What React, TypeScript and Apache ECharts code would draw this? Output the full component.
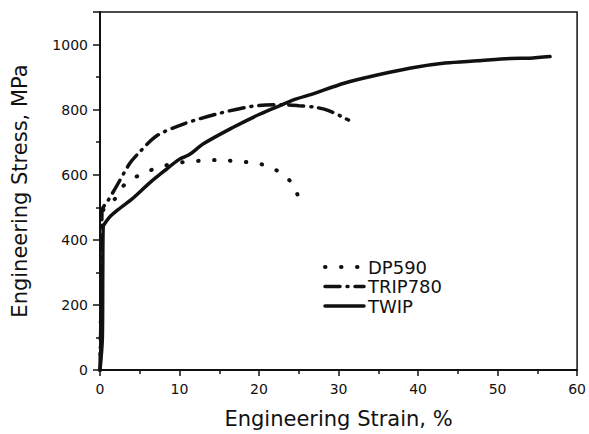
import React, { useEffect, useRef } from "react";
import * as echarts from "echarts";

const seriesNames = ["DP590", "TRIP780", "TWIP"];

const dp590: [number, number][] = [
  [0, 0], [0.2, 300], [0.4, 490], [1.7, 520], [3.1, 570], [5.2, 602], [7.1, 620],
  [9, 633], [10.9, 640], [12.7, 643], [14.6, 645], [18.3, 639], [20.2, 633],
  [22.1, 615], [24, 578], [25, 529],
];

const trip780: [number, number][] = [
  [0, 0], [0.2, 300], [0.25, 490], [1, 520], [1.9, 557], [3.75, 635], [5, 670],
  [7.1, 719], [10.4, 755], [14.6, 786], [19.1, 810], [22.9, 815], [25, 812],
  [27.1, 807], [28.75, 797], [31.25, 768],
];

const twip: [number, number][] = [
  [0, 0], [0.3, 100], [0.35, 300], [0.4, 440], [0.6, 450], [1.25, 471], [2.5, 497],
  [4, 525], [6.25, 575], [8, 610], [10, 648], [11.25, 662], [13, 695], [16.7, 745],
  [20, 785], [22.5, 811], [24.6, 832], [26.6, 847], [30.8, 882], [35, 907],
  [39.1, 928], [43.4, 943], [47.5, 950], [51.6, 957], [54, 958], [56.6, 963],
];

const xTitle = "Engineering Strain, %";
const yTitle = "Engineering Stress, MPa";

const dashes: number[][] = [[0.5, 15.5], [15, 7, 1, 7], []];
const widths = [4, 3.5, 3.5];

export default function App() {
  const ref = useRef<HTMLDivElement>(null);
  useEffect(() => {
    if (!ref.current) return;
    const chart = echarts.init(ref.current, null, { renderer: "svg" });
    const font = "DejaVu Sans";
    const legendItems: any[] = [];
    seriesNames.forEach((name, i) => {
      const y = 267 + i * 19.5;
      legendItems.push({
        type: "line",
        shape: { x1: 325, y1: y, x2: 364, y2: y },
        style: {
          stroke: "#111",
          lineWidth: widths[i],
          lineDash: dashes[i].length ? dashes[i] : null,
          lineCap: "round",
        },
      });
      legendItems.push({
        type: "text",
        x: 368,
        y: y,
        style: {
          text: name,
          fontFamily: font,
          fontSize: 18,
          fill: "#111",
          verticalAlign: "middle",
          align: "left",
        },
      });
    });
    chart.setOption({
      animation: false,
      backgroundColor: "#fff",
      textStyle: { fontFamily: font, color: "#111" },
      grid: {
        left: 100, right: 9, top: 12, bottom: 62,
        show: true, borderColor: "#111", borderWidth: 1.5,
      },
      graphic: legendItems,
      xAxis: {
        type: "value",
        min: 0, max: 60, interval: 10,
        name: xTitle,
        nameLocation: "middle",
        nameGap: 38,
        nameTextStyle: { fontFamily: font, fontSize: 21, color: "#111" },
        axisLine: { show: true, lineStyle: { color: "#111", width: 2 } },
        axisTick: { show: true, inside: false, length: 6, lineStyle: { color: "#111", width: 1.5 } },
        minorTick: { show: true, splitNumber: 2, length: 4, lineStyle: { color: "#111", width: 1.5 } },
        axisLabel: { fontFamily: font, fontSize: 14, color: "#111", margin: 12 },
        splitLine: { show: false },
      },
      yAxis: {
        type: "value",
        min: 0, max: 1100, interval: 200,
        name: yTitle,
        nameLocation: "middle",
        nameGap: 70,
        nameTextStyle: { fontFamily: font, fontSize: 21, color: "#111" },
        axisLine: { show: true, lineStyle: { color: "#111", width: 2 } },
        axisTick: { show: true, inside: false, length: 7, lineStyle: { color: "#111", width: 1.5 } },
        minorTick: { show: true, splitNumber: 2, length: 4, lineStyle: { color: "#111", width: 1.5 } },
        axisLabel: {
          fontFamily: font, fontSize: 14, color: "#111", margin: 12,
          formatter: (v: number) => (v > 1000 ? "" : String(v)),
        },
        splitLine: { show: false },
      },
      series: [dp590, trip780, twip].map((data, i) => ({
        name: seriesNames[i],
        type: "line",
        data,
        smooth: 0.3,
        showSymbol: false,
        symbol: "none",
        lineStyle: {
          color: "#111",
          width: widths[i],
          type: dashes[i].length ? dashes[i] : "solid",
          cap: "round",
        },
        itemStyle: { color: "#111" },
      })),
    });
    return () => chart.dispose();
  }, []);
  return <div ref={ref} style={{ width: 589, height: 434, position: "absolute", left: 0, top: 0 }} />;
}
